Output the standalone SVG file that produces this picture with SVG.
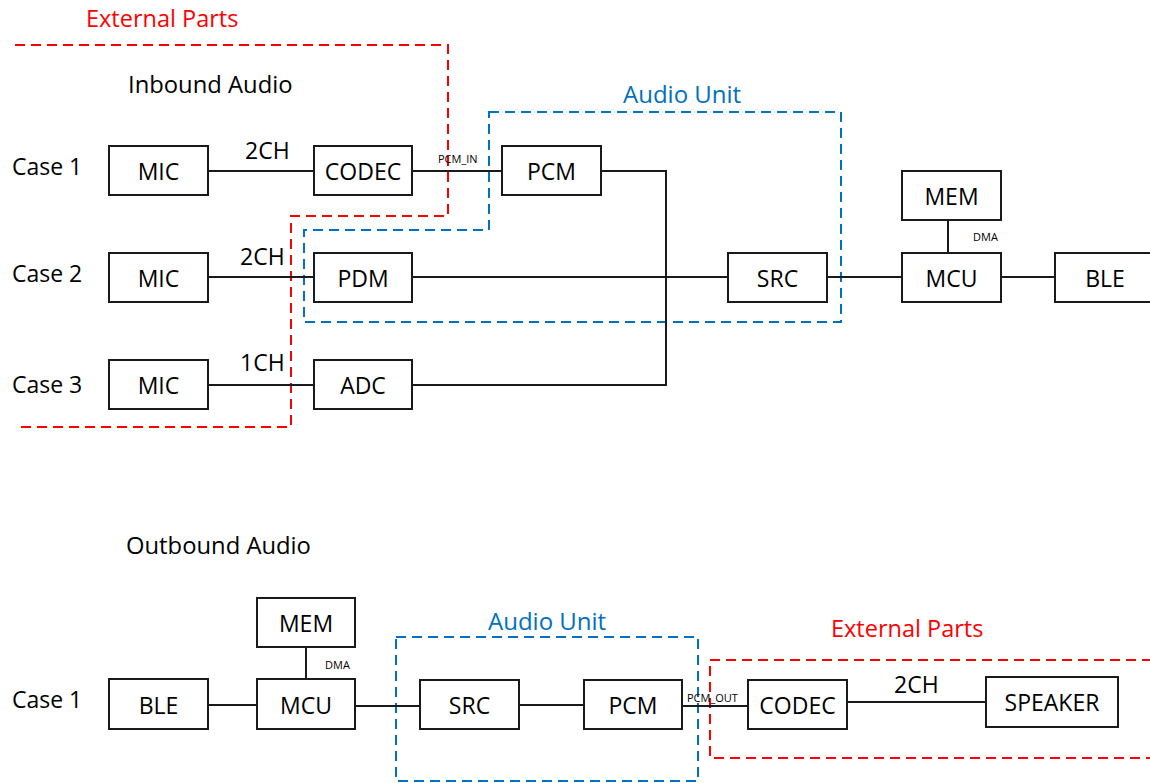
<svg xmlns="http://www.w3.org/2000/svg" width="1150" height="783" viewBox="0 0 1150 783">
<style>
  .box { fill: #ffffff; stroke: #1a1a1a; stroke-width: 2; }
  .lbl { font-family: "Open Sans", "Liberation Sans", sans-serif; font-size: 23px; fill: #000; text-anchor: middle; }
  .txt { font-family: "Open Sans", "Liberation Sans", sans-serif; font-size: 23px; fill: #000; }
  .head { font-family: "Open Sans", "Liberation Sans", sans-serif; font-size: 23.8px; fill: #000; }
  .small { font-family: "Open Sans", "Liberation Sans", sans-serif; font-size: 11px; fill: #000; }
  .wire { fill: none; stroke: #1a1a1a; stroke-width: 2; }
  .red { fill: none; stroke: #ff0000; stroke-width: 2; stroke-dasharray: 10 6; }
  .blue { fill: none; stroke: #0070c0; stroke-width: 2; stroke-dasharray: 10 6; }
  .redtxt { font-family: "Open Sans", "Liberation Sans", sans-serif; font-size: 23.5px; fill: #ff0000; }
  .bluetxt { font-family: "Open Sans", "Liberation Sans", sans-serif; font-size: 24px; fill: #0070c0; }
</style>
<rect width="1150" height="783" fill="#ffffff"/>

<!-- region outlines -->
<g id="regions">
  <path class="red" d="M15,45 H448 V216 H291 V427 H20"/>
  <path class="blue" d="M489,112 H841 V322 H304 V230 H489 Z"/>
  <rect class="blue" x="396" y="637" width="302" height="144"/>
  <path class="red" d="M1152,660 H710 V758 H1152"/>
</g>

<!-- connectors -->
<g id="connectors">
  <line class="wire" x1="208" y1="171" x2="314" y2="171"/>
  <line class="wire" x1="412" y1="171" x2="502" y2="171"/>
  <path class="wire" d="M601,171 H666 V385 H412"/>
  <line class="wire" x1="208" y1="277" x2="314" y2="277"/>
  <line class="wire" x1="412" y1="277" x2="728" y2="277"/>
  <line class="wire" x1="208" y1="385" x2="314" y2="385"/>
  <line class="wire" x1="827" y1="277" x2="902" y2="277"/>
  <line class="wire" x1="948" y1="220" x2="948" y2="253"/>
  <line class="wire" x1="1001" y1="277" x2="1055" y2="277"/>

  <line class="wire" x1="208" y1="705" x2="257" y2="705"/>
  <line class="wire" x1="306" y1="647" x2="306" y2="679"/>
  <line class="wire" x1="355" y1="706" x2="420" y2="706"/>
  <line class="wire" x1="519" y1="705" x2="584" y2="705"/>
  <line class="wire" x1="682" y1="706" x2="748" y2="706"/>
  <line class="wire" x1="847" y1="702" x2="986" y2="702"/>
</g>

<!-- free texts -->
<g id="labels">
  <text class="redtxt" x="86" y="27">External Parts</text>
  <text class="head" x="128" y="93">Inbound Audio</text>
  <text class="bluetxt" x="623" y="103">Audio Unit</text>
  <text class="txt" x="12" y="175">Case 1</text>
  <text class="txt" x="12" y="282">Case 2</text>
  <text class="txt" x="12" y="393">Case 3</text>
  <text class="txt" x="245" y="159">2CH</text>
  <text class="txt" x="240" y="265">2CH</text>
  <text class="txt" x="240" y="371">1CH</text>
  <text class="small" x="438" y="163" font-size="12">PCM_IN</text>
  <text class="small" x="973" y="241">DMA</text>

  <text class="head" x="126" y="554">Outbound Audio</text>
  <text class="bluetxt" x="488" y="630">Audio Unit</text>
  <text class="redtxt" x="831" y="637">External Parts</text>
  <text class="txt" x="12" y="708">Case 1</text>
  <text class="small" x="325" y="669">DMA</text>
  <text class="small" x="687" y="702" font-size="12">PCM_OUT</text>
  <text class="txt" x="894" y="693">2CH</text>
</g>

<!-- inbound nodes -->
<g id="in-mic1"><rect class="box" x="109" y="146" width="99" height="49"/><text class="lbl" x="158.5" y="179.5">MIC</text></g>
<g id="in-codec"><rect class="box" x="314" y="146" width="98" height="49"/><text class="lbl" x="363" y="179.5">CODEC</text></g>
<g id="in-pcm"><rect class="box" x="502" y="146" width="99" height="49"/><text class="lbl" x="551.5" y="179.5">PCM</text></g>
<g id="in-mic2"><rect class="box" x="109" y="253" width="99" height="49"/><text class="lbl" x="158.5" y="286.5">MIC</text></g>
<g id="in-pdm"><rect class="box" x="314" y="253" width="98" height="49"/><text class="lbl" x="363" y="286.5">PDM</text></g>
<g id="in-mic3"><rect class="box" x="109" y="360" width="99" height="49"/><text class="lbl" x="158.5" y="393.5">MIC</text></g>
<g id="in-adc"><rect class="box" x="314" y="360" width="98" height="49"/><text class="lbl" x="363" y="393.5">ADC</text></g>
<g id="in-src"><rect class="box" x="728" y="253" width="99" height="49"/><text class="lbl" x="777.5" y="286.5">SRC</text></g>
<g id="in-mem"><rect class="box" x="902" y="171" width="99" height="49"/><text class="lbl" x="951.5" y="204.5">MEM</text></g>
<g id="in-mcu"><rect class="box" x="902" y="253" width="99" height="49"/><text class="lbl" x="951.5" y="286.5">MCU</text></g>
<g id="in-ble"><rect class="box" x="1055" y="253" width="99" height="49"/><text class="lbl" x="1105" y="286.5">BLE</text></g>

<!-- outbound nodes -->
<g id="out-ble"><rect class="box" x="109" y="679" width="99" height="50"/><text class="lbl" x="158.5" y="713.5">BLE</text></g>
<g id="out-mem"><rect class="box" x="257" y="598" width="98" height="49"/><text class="lbl" x="306" y="631.5">MEM</text></g>
<g id="out-mcu"><rect class="box" x="257" y="679" width="98" height="50"/><text class="lbl" x="306" y="713.5">MCU</text></g>
<g id="out-src"><rect class="box" x="420" y="680" width="99" height="49"/><text class="lbl" x="469.5" y="713.5">SRC</text></g>
<g id="out-pcm"><rect class="box" x="584" y="680" width="98" height="49"/><text class="lbl" x="633" y="713.5">PCM</text></g>
<g id="out-codec"><rect class="box" x="748" y="680" width="99" height="49"/><text class="lbl" x="797.5" y="713.5">CODEC</text></g>
<g id="out-speaker"><rect class="box" x="986" y="677" width="132" height="50"/><text class="lbl" x="1052" y="710.5">SPEAKER</text></g>
</svg>
